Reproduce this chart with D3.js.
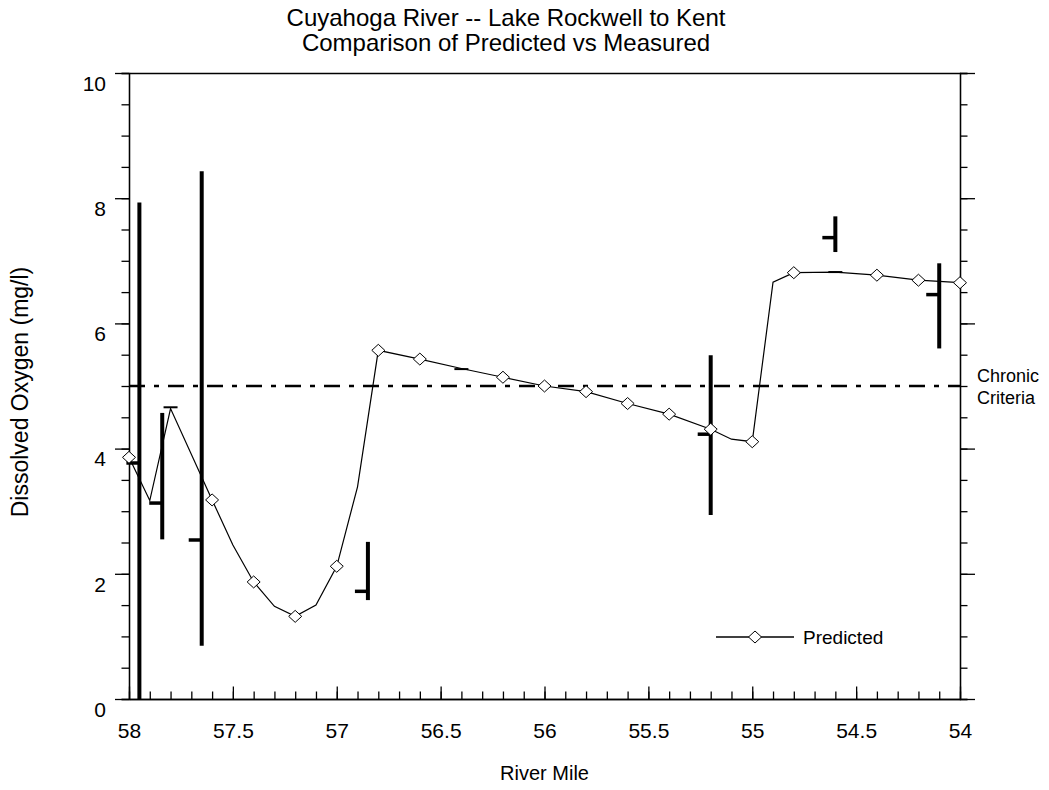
<!DOCTYPE html>
<html>
<head>
<meta charset="utf-8">
<script src="https://cdn.jsdelivr.net/npm/d3@7"></script>
<style>
  body { margin: 0; background: #fff; }
  svg { display: block; font-family: "Liberation Sans", Arial, sans-serif; }
  .axis text { font-size: 21px; fill: #000; }
  .axis path, .axis line { stroke: #000; stroke-width: 1.3; }
</style>
</head>
<body>
<div id="chart"></div>
<script>
// Predicted dissolved oxygen along the river (mile, mg/l)
var predMiles = [58.0, 57.9, 57.8, 57.6, 57.5, 57.4, 57.3, 57.2, 57.1, 57.0, 56.9, 56.8, 56.6, 56.4,
  56.2, 56.0, 55.8, 55.6, 55.4, 55.2, 55.1, 55.0, 54.9, 54.8, 54.6, 54.4, 54.2, 54.0];
var predValues = [3.86, 3.17, 4.64, 3.18, 2.46, 1.87, 1.48, 1.32, 1.50, 2.12, 3.39, 5.57, 5.43, 5.28,
  5.14, 5.00, 4.91, 4.72, 4.55, 4.31, 4.15, 4.11, 6.66, 6.81, 6.82, 6.77, 6.69, 6.65];
// miles where the predicted line carries a diamond marker
var markerMiles = [58.0, 57.6, 57.4, 57.2, 57.0, 56.8, 56.6, 56.2, 56.0, 55.8, 55.6, 55.4, 55.2,
  55.0, 54.8, 54.4, 54.2, 54.0];

// Measured ranges (min / max bar, mean tick)
var measuredMiles = [57.95, 57.84, 57.65, 56.85, 55.2, 54.6, 54.1];
var measuredMin = [0, 2.55, 0.85, 1.58, 2.94, 7.14, 5.6];
var measuredMax = [7.93, 4.57, 8.43, 2.51, 5.49, 7.71, 6.96];
var measuredMean = [3.77, 3.13, 2.54, 1.72, 4.23, 7.37, 6.46];

// Single point values drawn as short dashes
var pointMiles = [57.8, 56.4, 54.6];
var pointValues = [4.66, 5.27, 6.82];

var criteria = 5;
var xTicks = [58, 57.5, 57, 56.5, 56, 55.5, 55, 54.5, 54];
var yTicks = [0, 2, 4, 6, 8, 10];

var titleLines = ["Cuyahoga River -- Lake Rockwell to Kent", "Comparison of Predicted vs Measured"];

function createChart() {
  var width = 1049, height = 790;
  var left = 129, right = 960, top = 73, bottom = 699;

  var svg = d3
    .select("#chart")
    .append("svg")
    .attr("width", width)
    .attr("height", height);

  var x = d3.scaleLinear().domain([58, 54]).range([left, right]);
  var y = d3.scaleLinear().domain([0, 10]).range([bottom, top]);

  var minorX = d3.range(0, 41).map(function (i) { return 58 - i * 0.1; });
  var minorY = d3.range(0, 21).map(function (i) { return i * 0.5; });

  // top frame line
  svg
    .append("g")
    .attr("class", "axis")
    .attr("transform", "translate(0," + top + ")")
    .call(d3.axisTop(x).tickValues([]).tickSizeOuter(0));

  // bottom axis, ticks pointing into the plot
  svg
    .append("g")
    .attr("class", "axis")
    .attr("transform", "translate(0," + bottom + ")")
    .call(d3.axisBottom(x).tickValues(minorX).tickSizeInner(-7.5).tickSizeOuter(0).tickFormat(""));
  svg
    .append("g")
    .attr("class", "axis")
    .attr("transform", "translate(0," + bottom + ")")
    .call(d3.axisBottom(x).tickValues(xTicks).tickSizeInner(-12.5).tickSizeOuter(0).tickPadding(24).tickFormat(d3.format("")))
    .selectAll("text")
    .attr("dy", "0.71em");

  // left axis
  svg
    .append("g")
    .attr("class", "axis")
    .attr("transform", "translate(" + left + ",0)")
    .call(d3.axisLeft(y).tickValues(minorY).tickSize(7.5).tickFormat(""));
  svg
    .append("g")
    .attr("class", "axis")
    .attr("transform", "translate(" + left + ",0)")
    .call(d3.axisLeft(y).tickValues(yTicks).tickSize(14).tickPadding(9).tickSizeOuter(0))
    .selectAll("text")
    .attr("dy", "0.82em");

  // right axis, no labels
  svg
    .append("g")
    .attr("class", "axis")
    .attr("transform", "translate(" + right + ",0)")
    .call(d3.axisRight(y).tickValues(minorY).tickSize(7.5).tickFormat(""));
  svg
    .append("g")
    .attr("class", "axis")
    .attr("transform", "translate(" + right + ",0)")
    .call(d3.axisRight(y).tickValues(yTicks).tickSize(15).tickSizeOuter(0).tickFormat(""));

  // chronic criteria line
  svg
    .append("line")
    .attr("x1", x(58))
    .attr("x2", x(54))
    .attr("y1", y(criteria))
    .attr("y2", y(criteria))
    .attr("stroke", "#000")
    .attr("stroke-width", 2.5)
    .attr("stroke-dasharray", "16,9,5,9");

  svg
    .append("text")
    .attr("x", 977)
    .attr("y", y(criteria) - 4)
    .style("font-size", "18px")
    .selectAll("tspan")
    .data(["Chronic", "Criteria"])
    .enter()
    .append("tspan")
    .attr("x", 977)
    .attr("dy", function (d, i) { return i ? "1.2em" : 0; })
    .text(function (d) { return d; });

  var pred = predMiles.map(function (m, i) {
    return { mile: m, value: predValues[i] };
  });

  var line = d3
    .line()
    .x(function (d) { return x(d.mile); })
    .y(function (d) { return y(d.value); });

  svg
    .append("path")
    .datum(pred)
    .attr("fill", "none")
    .attr("stroke", "#000")
    .attr("stroke-width", 1.2)
    .attr("d", line);

  // measured bars
  var measured = measuredMiles.map(function (m, i) {
    return { mile: m, min: measuredMin[i], max: measuredMax[i], mean: measuredMean[i] };
  });

  svg
    .selectAll(".bar")
    .data(measured)
    .enter()
    .append("line")
    .attr("class", "bar")
    .attr("x1", function (d) { return x(d.mile); })
    .attr("x2", function (d) { return x(d.mile); })
    .attr("y1", function (d) { return y(d.min); })
    .attr("y2", function (d) { return y(d.max); })
    .attr("stroke", "#000")
    .attr("stroke-width", 4);

  svg
    .selectAll(".mean")
    .data(measured)
    .enter()
    .append("line")
    .attr("class", "mean")
    .attr("x1", function (d) { return x(d.mile) - 13; })
    .attr("x2", function (d) { return x(d.mile); })
    .attr("y1", function (d) { return y(d.mean); })
    .attr("y2", function (d) { return y(d.mean); })
    .attr("stroke", "#000")
    .attr("stroke-width", 3.5);

  svg
    .selectAll(".point")
    .data(pointMiles)
    .enter()
    .append("line")
    .attr("class", "point")
    .attr("x1", function (d) { return x(d) - 7; })
    .attr("x2", function (d) { return x(d) + 7; })
    .attr("y1", function (d, i) { return y(pointValues[i]); })
    .attr("y2", function (d, i) { return y(pointValues[i]); })
    .attr("stroke", "#000")
    .attr("stroke-width", 2);

  // diamond markers
  var diamond = "M0,-6L6.5,0L0,6L-6.5,0Z";
  svg
    .selectAll(".marker")
    .data(pred.filter(function (d) { return markerMiles.indexOf(d.mile) >= 0; }))
    .enter()
    .append("path")
    .attr("class", "marker")
    .attr("d", diamond)
    .attr("transform", function (d) { return "translate(" + x(d.mile) + "," + y(d.value) + ")"; })
    .attr("fill", "#fff")
    .attr("stroke", "#000")
    .attr("stroke-width", 1);

  // legend
  var legend = svg.append("g").attr("transform", "translate(716,637)");
  legend.append("line").attr("x1", 0).attr("x2", 78).attr("stroke", "#000").attr("stroke-width", 1.5);
  legend.append("path").attr("d", diamond).attr("transform", "translate(39,0)")
    .attr("fill", "#fff").attr("stroke", "#000");
  legend.append("text").attr("x", 87).attr("y", 7).style("font-size", "19px").text("Predicted");

  // titles
  svg
    .selectAll(".title")
    .data(titleLines)
    .enter()
    .append("text")
    .attr("class", "title")
    .attr("x", 506)
    .attr("y", function (d, i) { return 26 + i * 25; })
    .attr("text-anchor", "middle")
    .style("font-size", "24px")
    .text(function (d) { return d; });

  svg
    .append("text")
    .attr("x", (left + right) / 2)
    .attr("y", 780)
    .attr("text-anchor", "middle")
    .style("font-size", "20px")
    .text("River Mile");

  svg
    .append("text")
    .attr("transform", "translate(28,392) rotate(-90)")
    .attr("text-anchor", "middle")
    .style("font-size", "23px")
    .text("Dissolved Oxygen (mg/l)");
}

createChart();
</script>
</body>
</html>
